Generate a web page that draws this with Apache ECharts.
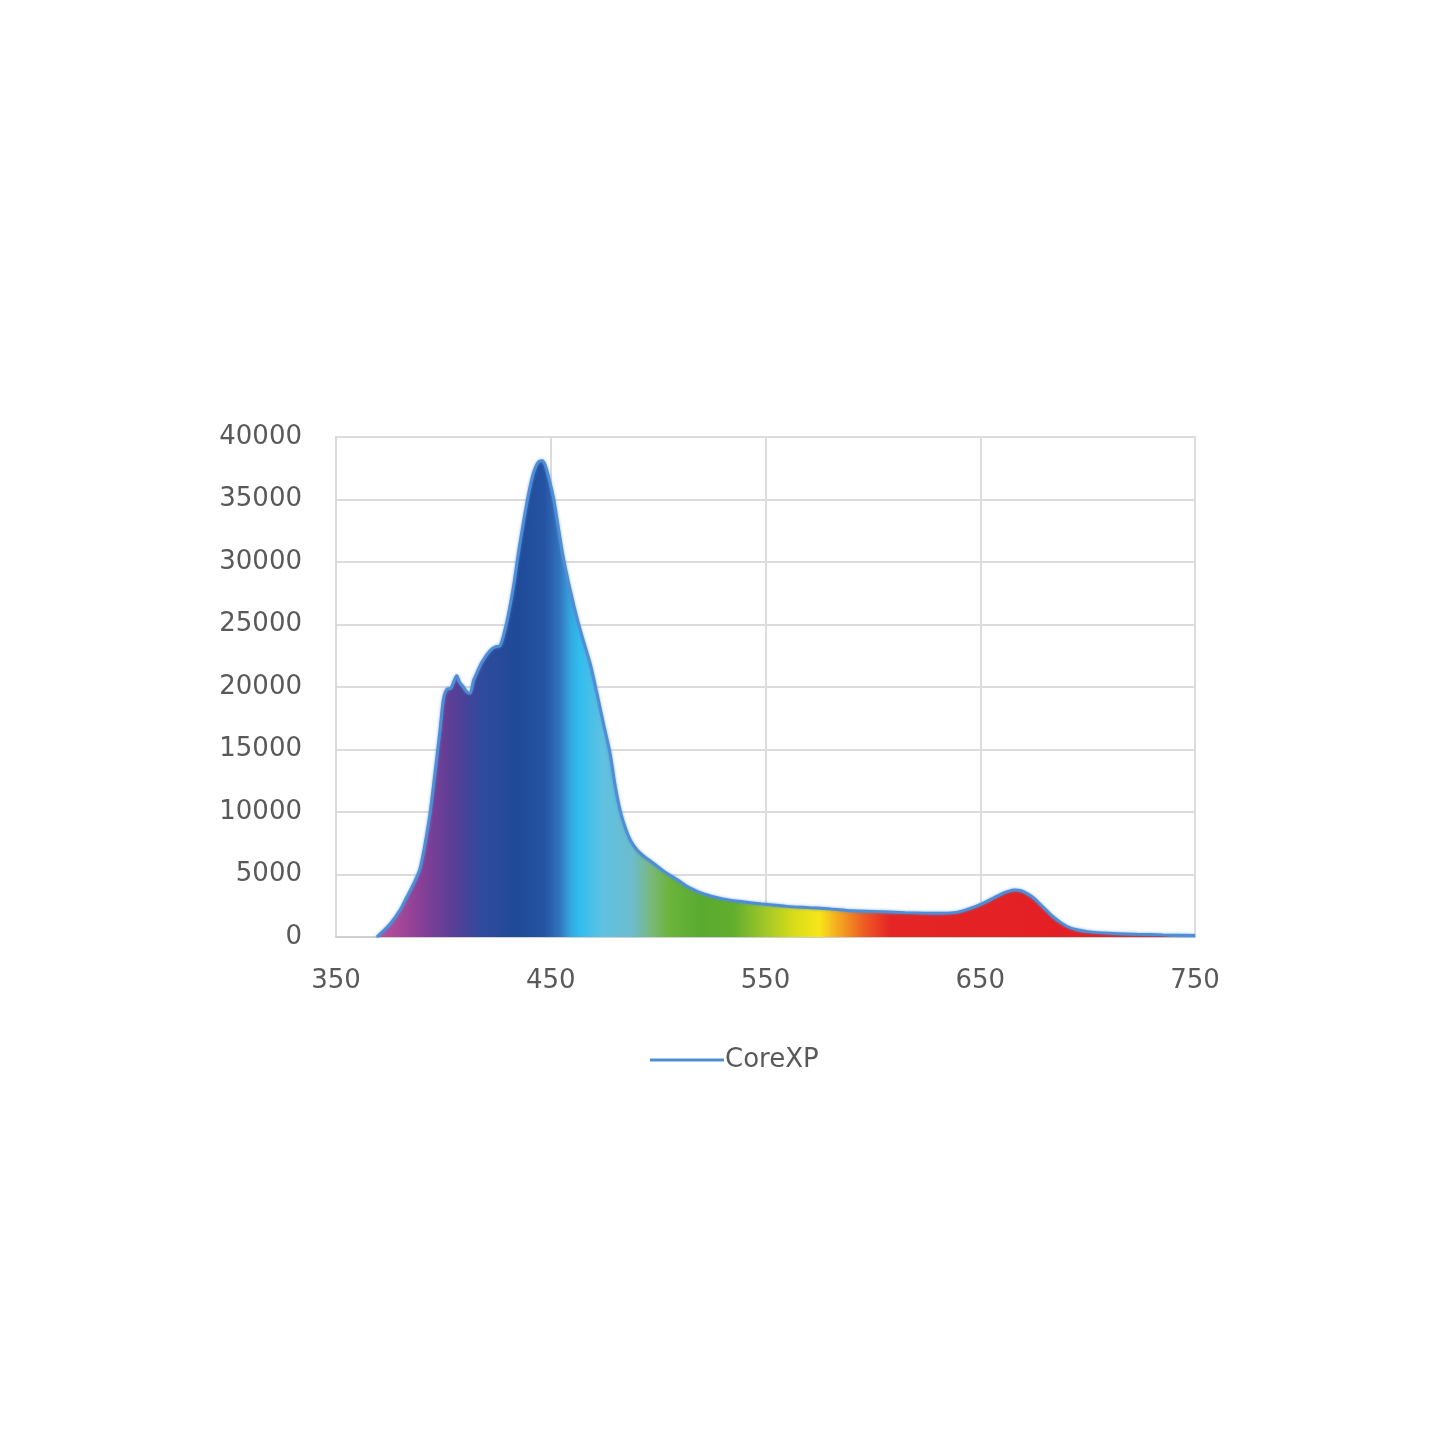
<!DOCTYPE html>
<html>
<head>
<meta charset="utf-8">
<script src="https://cdn.jsdelivr.net/npm/echarts@6/dist/echarts.min.js"></script>
<style>
  html, body { margin: 0; padding: 0; background: #fff; }
  #chart { width: 1445px; height: 1445px; }
</style>
</head>
<body>
<div id="chart"></div>
<script>
// wavelength (nm) and intensity
const wavelengths = [
  369, 375, 380, 383, 386, 389, 391, 393.8, 396, 398.4,
  400, 401.5, 403.5, 405, 406.2, 407.5, 409.3, 411, 412.4, 414,
  415.5, 418, 421.7, 424, 426.4, 428.7, 430.5, 432.6, 435, 437.2,
  439.5, 441.9, 444.2, 446, 447.3, 449, 451.2, 453.5, 455.8, 459,
  462.1, 465, 468.3, 471.5, 474.5, 477.5, 480.1, 482.5, 485, 487.2,
  490, 493, 496.2, 500, 504, 508.7, 514, 521.2, 530, 540,
  548, 560, 570, 580, 590, 600, 615, 630, 638, 643,
  648, 652, 656, 660, 663, 666, 669, 672, 675, 678,
  681, 684, 687.5, 691, 695, 700, 710, 723, 735, 750
]
const intensity = [
  0, 1000, 2200, 3200, 4200, 5400, 7000, 9900, 13000, 16500,
  19000, 19800, 19900, 20500, 20900, 20400, 20000, 19600, 19500, 20500,
  21100, 22000, 22900, 23200, 23300, 24600, 26000, 28000, 30800, 33100,
  35300, 37100, 38000, 38100, 37800, 36800, 35200, 32800, 30400, 27800,
  25600, 23800, 21900, 19500, 17100, 14800, 12000, 10000, 8600, 7700,
  7000, 6500, 6100, 5600, 5100, 4600, 4000, 3450, 3050, 2800,
  2650, 2450, 2350, 2250, 2100, 2050, 1950, 1900, 1950, 2150,
  2450, 2750, 3100, 3450, 3650, 3760, 3700, 3450, 3100, 2600,
  2100, 1600, 1150, 800, 580, 430, 300, 220, 170, 120
]
const yTicks = [0, 5000, 10000, 15000, 20000, 25000, 30000, 35000, 40000]
const xTicks = [350, 450, 550, 650, 750]

// spectrum colours under the curve, by wavelength
const spectrumNm = [369, 376, 389, 404, 418, 435, 447, 454, 459, 463, 474, 488, 497, 505, 520, 535, 548, 563, 575, 584, 596, 608, 750]
const spectrumColor = [
  '#b84f9e', '#b04a9a', '#8a3f96', '#5a3e96', '#2f4a9c', '#1f4a98', '#2553a3', '#3272bc',
  '#34a5e0', '#30bcee', '#5ec2e2', '#6cbccc', '#79b87a', '#6cb43c', '#5aaa30', '#62ae2e',
  '#98c42a', '#d8dc18', '#f7e61a', '#f4a820', '#ee5a24', '#e52525', '#e31b23'
]

const first = wavelengths[0]
const last = wavelengths[wavelengths.length - 1]
const stops = spectrumNm.map((nm, i) => ({
  offset: (nm - first) / (last - first),
  color: spectrumColor[i]
}))

const font = 'DejaVu Sans'
const chart = echarts.init(document.getElementById('chart'))

chart.setOption({
  animation: false,
  grid: {
    left: 336, right: 250, top: 437, bottom: 508,
    show: true, borderColor: '#d9d9d9', borderWidth: 2
  },
  legend: {
    left: 645, top: 1042,
    itemWidth: 74, itemHeight: 3,
    icon: 'rect',
    textStyle: { fontFamily: font, fontSize: 26, color: '#595959', padding: [0, 0, 0, -4] },
    data: ['CoreXP']
  },
  xAxis: {
    type: 'value',
    min: xTicks[0], max: xTicks[xTicks.length - 1], interval: 100,
    axisLine: { show: true, lineStyle: { color: '#d0d0d0', width: 2 } },
    axisTick: { show: false },
    splitLine: { show: true, lineStyle: { color: '#dcdcdc', width: 2 } },
    axisLabel: { margin: 31, fontFamily: font, fontSize: 26, color: '#595959', formatter: v => String(v) }
  },
  yAxis: {
    type: 'value',
    min: yTicks[0], max: yTicks[yTicks.length - 1], interval: 5000,
    axisLine: { show: true, lineStyle: { color: '#d9d9d9', width: 2 } },
    axisTick: { show: false },
    splitLine: { show: true, lineStyle: { color: '#dcdcdc', width: 2 } },
    axisLabel: { margin: 34, fontFamily: font, fontSize: 26, color: '#595959', formatter: v => String(v) }
  },
  series: [{
    name: 'CoreXP',
    type: 'line',
    data: wavelengths.map((nm, i) => [nm, intensity[i]]),
    symbol: 'none',
    smooth: 0.3,
    lineStyle: { color: '#4f8ed5', width: 3, shadowBlur: 3, shadowColor: 'rgba(79,142,213,0.7)' },
    itemStyle: { color: '#4f8ed5' },
    areaStyle: {
      opacity: 1,
      color: new echarts.graphic.LinearGradient(0, 0, 1, 0, stops)
    }
  }]
})
</script>
</body>
</html>
